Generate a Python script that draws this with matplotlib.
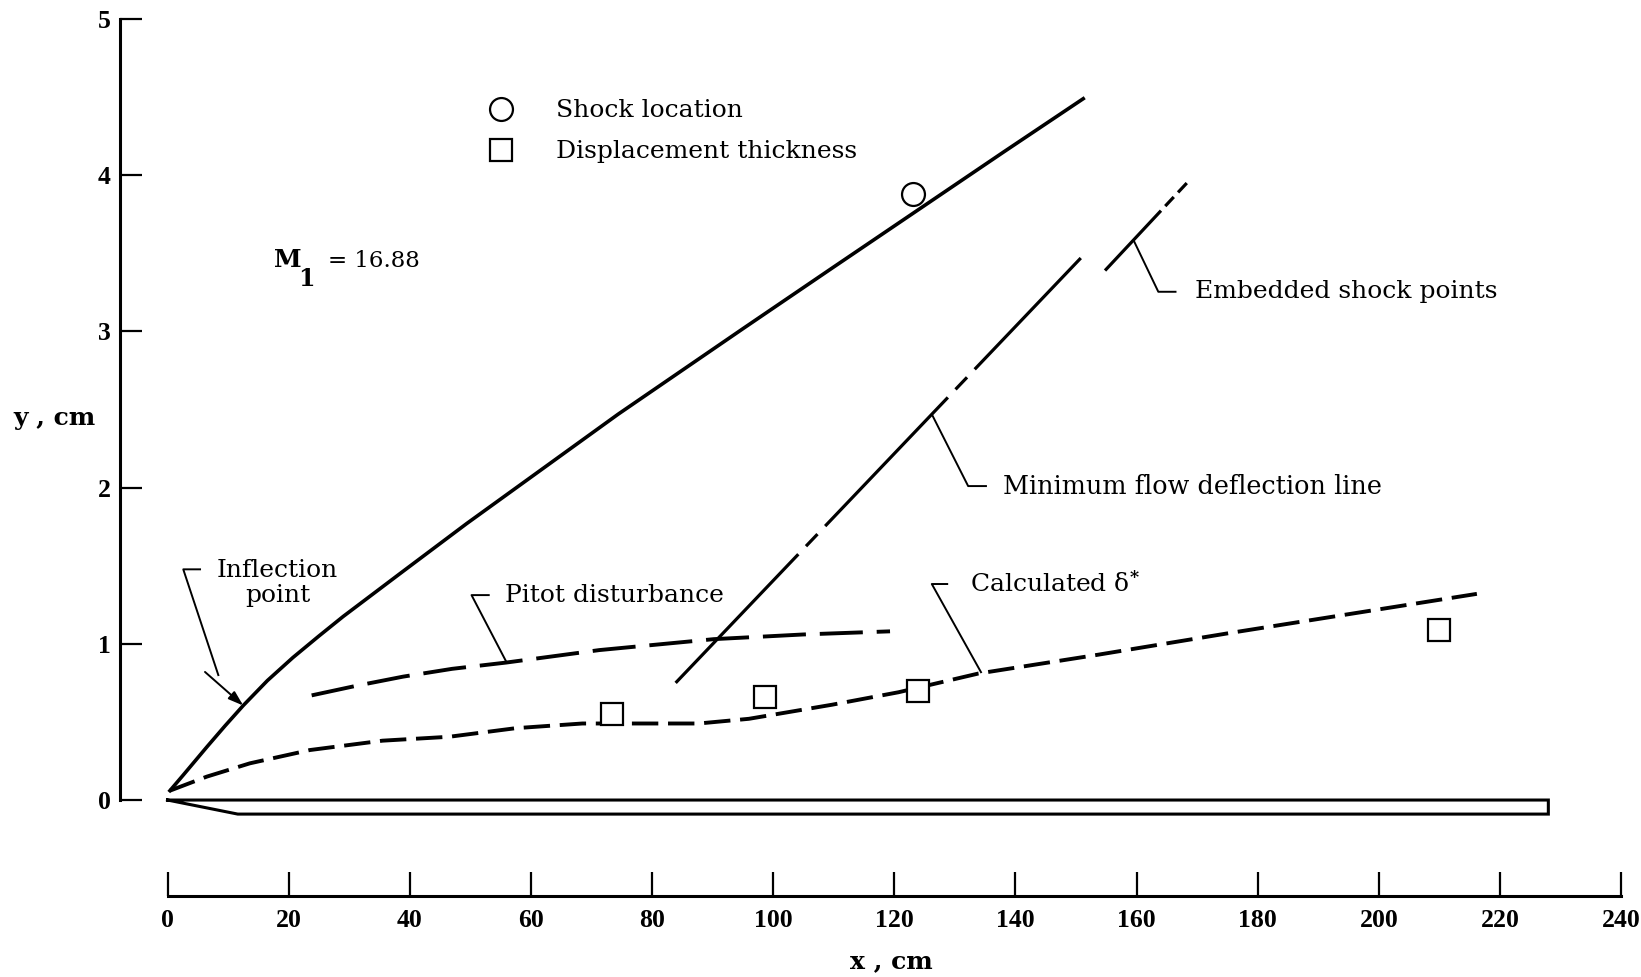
import numpy as np
import matplotlib
matplotlib.use('Agg')
import matplotlib.pyplot as plt
from matplotlib.lines import Line2D

SERIF = 'DejaVu Serif'
TICKFONT = 'Liberation Serif'

plt.rcParams['lines.scale_dashes'] = False
plt.rcParams['mathtext.fontset'] = 'dejavuserif'
# tick numbers use a heavy Times-like face
plt.rcParams['font.family'] = TICKFONT
plt.rcParams['font.weight'] = 'bold'
plt.rcParams['xtick.labelsize'] = 18.5
plt.rcParams['ytick.labelsize'] = 18.5

# shock wave trace (solid)
shock_x = [0.4, 2.6, 6.5, 9.5, 12.5, 16.5, 20.7, 25.0, 29.0, 38.4, 49.4, 74.4, 95.1, 109.9, 124.0, 138.1, 151.2]
shock_y = [0.06, 0.16, 0.34, 0.475, 0.605, 0.765, 0.912, 1.05, 1.175, 1.45, 1.77, 2.47, 3.02, 3.41, 3.78, 4.15, 4.49]

# calculated displacement thickness
dstar_x = [0.4, 6.5, 13.6, 23.5, 35.5, 46.5, 57.5, 68.5, 87.7, 96.0, 109.7, 120.7, 133.9, 153.6, 175.5, 216.2]
dstar_y = [0.06, 0.15, 0.235, 0.32, 0.38, 0.405, 0.46, 0.49, 0.49, 0.52, 0.61, 0.69, 0.81, 0.93, 1.07, 1.32]

# pitot disturbance boundary
pitot_x = [23.8, 31.0, 38.9, 47.0, 55.9, 71.3, 90.2, 105.0, 119.3]
pitot_y = [0.67, 0.73, 0.79, 0.84, 0.88, 0.96, 1.03, 1.06, 1.08]

# minimum flow deflection line and embedded shock points
minflow_x = [83.9, 150.8]
minflow_y = [0.75, 3.47]
embed_x = [154.8, 168.3]
embed_y = [3.39, 3.95]

# measured points
shock_pt_x = [123.1]
shock_pt_y = [3.88]
disp_x = [73.4, 98.7, 124.0, 210.0]
disp_y = [0.55, 0.66, 0.70, 1.09]

# flat plate outline
plate_x = [0.0, 11.6, 228.0, 228.0, 0.0]
plate_y = [0.0, -0.09, -0.09, 0.0, 0.0]

x_ticks = list(range(0, 241, 20))
y_ticks = [0, 1, 2, 3, 4, 5]

TXT = dict(fontfamily=SERIF, fontweight='normal', fontsize=18)


def leader(ax, tip_x, curve_x, curve_y, corner, end):
    tip_y = np.interp(tip_x, curve_x, curve_y)
    ax.plot([tip_x, corner[0], end[0]], [tip_y, corner[1], end[1]],
            color='black', lw=1.4, solid_capstyle='butt')


def main():
    fig = plt.figure(figsize=(16.41, 9.77), dpi=100)
    ax = fig.add_axes([0, 0, 1, 1])
    ax.set_xlim(-27.66, 243.3)
    ax.set_ylim(-1.133, 5.122)

    for s in ['top', 'right']:
        ax.spines[s].set_visible(False)
    ax.spines['left'].set_position(('data', -7.8))
    ax.spines['left'].set_bounds(0, 5)
    ax.spines['bottom'].set_position(('data', -0.615))
    ax.spines['bottom'].set_bounds(0, 240)
    for s in ['left', 'bottom']:
        ax.spines[s].set_linewidth(2.2)

    ax.set_xticks(x_ticks)
    ax.set_yticks(y_ticks)
    ax.tick_params(axis='y', direction='in', length=16, width=1.6, pad=7)
    ax.tick_params(axis='x', direction='in', length=17, width=1.6, pad=9)

    ax.set_xlabel('x , cm', fontfamily=SERIF, fontweight='bold', fontsize=18, va='center')
    ax.xaxis.set_label_coords(0.543, 0.0164)
    ax.set_ylabel('y , cm', fontfamily=SERIF, fontweight='bold', fontsize=18,
                  rotation=0, va='center', ha='center')
    ax.yaxis.set_label_coords(0.0335, 0.572)

    # plate
    ax.plot(plate_x, plate_y, color='black', lw=2.2, solid_joinstyle='miter')

    # curves
    ax.plot(shock_x, shock_y, color='black', lw=2.6)
    ax.plot(dstar_x, dstar_y, color='black', lw=2.8, linestyle=(0, (19, 7)))
    ax.plot(pitot_x, pitot_y, color='black', lw=2.8, linestyle=(0, (31, 10)))
    ax.plot(minflow_x, minflow_y, color='black', lw=2.3,
            linestyle=(0, (128, 8, 12, 8)))
    ax.plot(embed_x, embed_y, color='black', lw=2.3,
            linestyle=(0, (59, 4.5, 9, 4.5, 10, 4.5)))

    ax.plot(shock_pt_x, shock_pt_y, 'o', ms=16.5, mfc='white', mec='black', mew=1.6)
    ax.plot(disp_x, disp_y, 's', ms=15.5, mfc='white', mec='black', mew=1.6)

    handles = [Line2D([], [], ls='none', marker='o', ms=16.5, mfc='white', mec='black', mew=1.6),
               Line2D([], [], ls='none', marker='s', ms=16.5, mfc='white', mec='black', mew=1.6)]
    ax.legend(handles, ['Shock location', 'Displacement thickness'],
              loc='upper left', bbox_to_anchor=(53.0, 4.485), bbox_transform=ax.transData,
              frameon=False, borderpad=0, borderaxespad=0, handlelength=1.0,
              handletextpad=1.72, labelspacing=0.72, numpoints=1,
              prop={'family': SERIF, 'weight': 'normal', 'size': 18})

    # Mach number
    ax.text(17.6, 3.41, 'M', fontfamily=SERIF, fontweight='bold', fontsize=18, va='baseline')
    ax.text(21.6, 3.29, '1', fontfamily=SERIF, fontweight='bold', fontsize=17, va='baseline')
    ax.text(26.5, 3.41, '= 16.88', fontfamily=SERIF, fontweight='normal', fontsize=16.5,
            va='baseline')

    # labels with leaders
    ax.text(18.2, 1.39, 'Inflection\npoint', ha='center', va='center', linespacing=1.08, **TXT)
    ax.plot([5.37, 2.6, 8.39], [1.477, 1.477, 0.80], color='black', lw=1.4)
    tip = (12.5, np.interp(12.5, shock_x, shock_y))
    ax.annotate('', xy=tip, xytext=(6.19, 0.82),
                arrowprops=dict(arrowstyle='-|>,head_length=0.9,head_width=0.3',
                                color='black', lw=1.4, shrinkA=0, shrinkB=0))

    leader(ax, 56.0, pitot_x, pitot_y, (50.2, 1.312), (53.2, 1.312))
    ax.text(55.7, 1.312, 'Pitot disturbance', va='center', **TXT)

    leader(ax, 126.2, minflow_x, minflow_y, (132.2, 2.01), (135.3, 2.01))
    ax.text(138.0, 2.01, 'Minimum flow deflection line', va='center',
            **{**TXT, 'fontsize': 18.4})

    leader(ax, 159.5, embed_x, embed_y, (163.6, 3.254), (166.6, 3.254))
    ax.text(169.7, 3.254, 'Embedded shock points', va='center', **TXT)

    leader(ax, 134.4, dstar_x, dstar_y, (126.2, 1.383), (128.9, 1.383))
    ax.text(132.5, 1.383, r'Calculated δ$^{*}$', va='center', **TXT)

    fig.savefig('out.png', dpi=100)


if __name__ == '__main__':
    main()
